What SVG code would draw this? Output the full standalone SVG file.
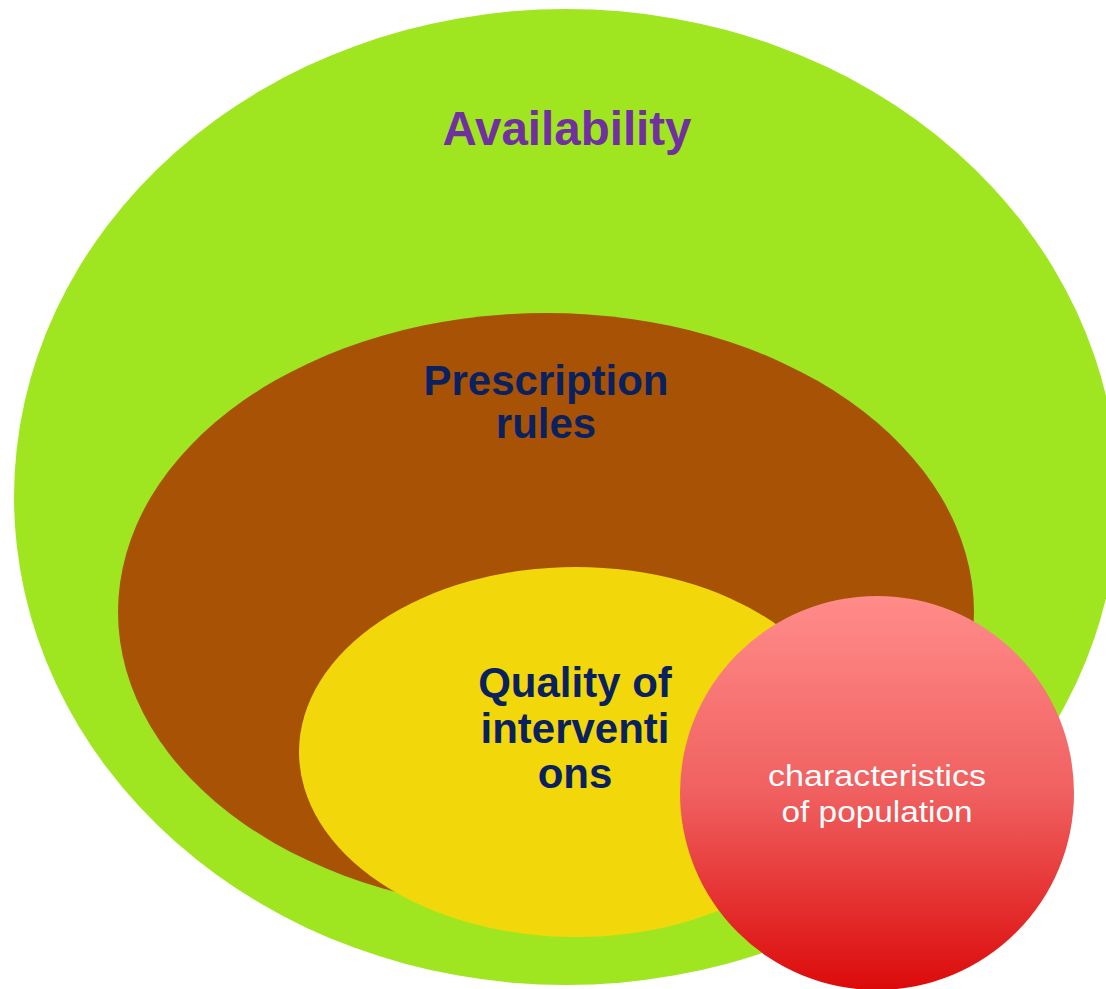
<svg xmlns="http://www.w3.org/2000/svg" width="1106" height="989" viewBox="0 0 1106 989">
  <defs>
    <linearGradient id="redGrad" x1="0" y1="0" x2="0" y2="1">
      <stop offset="0" stop-color="#FF8C8A"/>
      <stop offset="0.5" stop-color="#F06060"/>
      <stop offset="1" stop-color="#DC0A0A"/>
    </linearGradient>
    <style>
      .bold { font-family: "Liberation Sans", Arial, sans-serif; font-weight: bold; text-anchor: middle; }
      .navy { fill: #0A2160; }
      .light { font-family: "Liberation Sans", Arial, sans-serif; fill: #FFFFFF; text-anchor: middle; }
    </style>
  </defs>
  <rect width="1106" height="989" fill="#FFFFFF"/>
  <g id="availability">
    <ellipse cx="566" cy="497" rx="552" ry="488" fill="#A0E620"/>
    <text class="bold" x="567" y="145" font-size="47.5" fill="#7030A0">Availability</text>
  </g>
  <g id="prescription-rules">
    <ellipse cx="546" cy="612" rx="428" ry="299" fill="#A85206"/>
    <text class="bold navy" x="546" y="395" font-size="42">Prescription</text>
    <text class="bold navy" x="546" y="438" font-size="42">rules</text>
  </g>
  <g id="quality-of-interventions">
    <ellipse cx="576" cy="752" rx="277" ry="185" fill="#F2D80A"/>
    <text class="bold navy" x="575" y="697" font-size="42">Quality of</text>
    <text class="bold navy" x="575" y="743" font-size="42">interventi</text>
    <text class="bold navy" x="575" y="788" font-size="42">ons</text>
  </g>
  <g id="characteristics-of-population">
    <circle cx="877" cy="793" r="197" fill="url(#redGrad)"/>
    <text class="light" x="877" y="786" font-size="30" textLength="218" lengthAdjust="spacingAndGlyphs">characteristics</text>
    <text class="light" x="877" y="822" font-size="30" textLength="191" lengthAdjust="spacingAndGlyphs">of population</text>
  </g>
  <g id="connectors"/>
</svg>
